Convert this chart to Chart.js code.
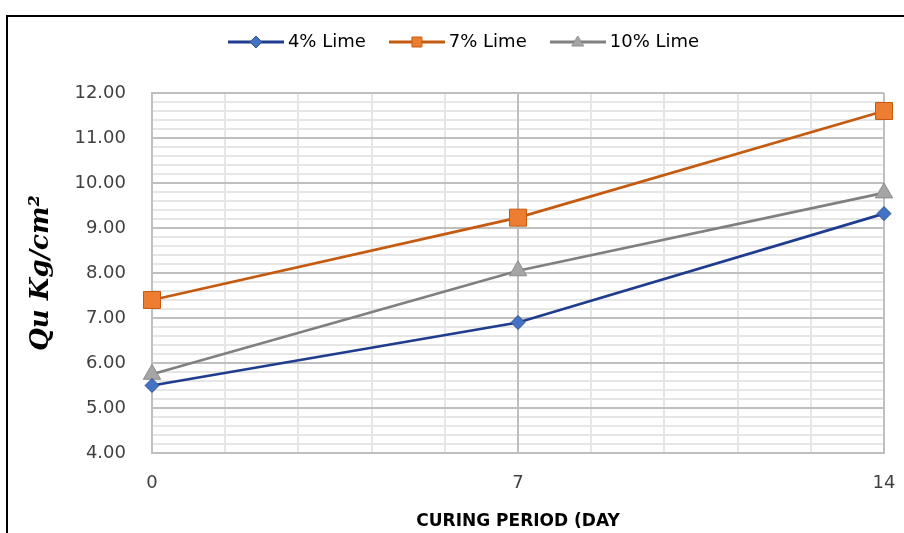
<!DOCTYPE html>
<html>
<head>
<meta charset="utf-8">
<script src="https://cdn.jsdelivr.net/npm/chart.js@4/dist/chart.umd.min.js"></script>
<style>
  html, body { margin: 0; padding: 0; background: #fff; }
  #wrap { position: relative; width: 904px; height: 533px; overflow: hidden; }
  #frame { position: absolute; left: 6px; top: 15px; width: 1000px; height: 1000px;
           border-top: 2px solid #000; border-left: 2px solid #000; pointer-events: none; }
  #c { position: absolute; left: 0; top: 0; }
</style>
</head>
<body>
<div id="wrap">
  <div id="frame"></div>
  <canvas id="c" width="904" height="533"></canvas>
</div>
<script>
// Curing period (days) and unconfined compressive strength per lime content
const days = [0, 7, 14];
const lime4 = [5.50, 6.90, 9.32];
const lime7 = [7.40, 9.23, 11.60];
const lime10 = [5.75, 8.05, 9.78];
const seriesNames = ['4% Lime', '7% Lime', '10% Lime'];
const xTickLabels = ['0', '7', '14'];

const SANS = "'DejaVu Sans', 'Open Sans', sans-serif";
const MAJOR_GRID = '#BFBFBF';
const MINOR_GRID = '#E6E6E6';
const styles = [
  { line: '#1F3C8F', fill: '#4472C4', border: '#2F528F', shape: 'rectRot', r: 7 },
  { line: '#C55A11', fill: '#ED7D31', border: '#C55A11', shape: 'rect', r: 12 },
  { line: '#808080', fill: '#A5A5A5', border: '#8C8C8C', shape: 'triangle', r: 10 }
];

// Small line-plus-marker swatch used as the legend symbol
function swatch(s) {
  const cv = document.createElement('canvas');
  cv.width = 56; cv.height = 18;
  const g = cv.getContext('2d');
  g.strokeStyle = s.line; g.lineWidth = 3;
  g.beginPath(); g.moveTo(0, 9); g.lineTo(56, 9); g.stroke();
  g.fillStyle = s.fill; g.strokeStyle = s.border; g.lineWidth = 1;
  g.beginPath();
  if (s.shape === 'rectRot') {
    g.moveTo(28, 3); g.lineTo(34, 9); g.lineTo(28, 15); g.lineTo(22, 9);
  } else if (s.shape === 'rect') {
    g.rect(23, 4, 10, 10);
  } else {
    g.moveTo(28, 3); g.lineTo(34, 13); g.lineTo(22, 13);
  }
  g.closePath(); g.fill(); g.stroke();
  return cv;
}

function makeSet(name, values, s) {
  return {
    label: name,
    data: days.map((d, i) => ({ x: d, y: values[i] })),
    borderColor: s.line,
    backgroundColor: s.fill,
    borderWidth: 2.75,
    pointStyle: s.shape,
    pointRadius: s.r,
    pointHoverRadius: s.r,
    pointBackgroundColor: s.fill,
    pointBorderColor: s.border,
    pointBorderWidth: 1,
    tension: 0,
    clip: false,
    legendSwatch: swatch(s)
  };
}

const isWhole = v => Math.abs(v - Math.round(v)) < 1e-6;

new Chart(document.getElementById('c'), {
  type: 'line',
  data: {
    datasets: [
      makeSet(seriesNames[0], lime4, styles[0]),
      makeSet(seriesNames[1], lime7, styles[1]),
      makeSet(seriesNames[2], lime10, styles[2])
    ]
  },
  options: {
    responsive: false,
    animation: false,
    devicePixelRatio: 1,
    layout: { padding: { top: 5, left: 28, right: 0, bottom: 0 } },
    plugins: {
      tooltip: { enabled: false },
      // empty title box used only as a gap between the legend and the plot
      title: {
        display: true,
        text: '',
        weight: 500,
        font: { size: 32, lineHeight: 1 },
        padding: 0
      },
      legend: {
        position: 'top',
        align: 'center',
        labels: {
          usePointStyle: true,
          pointStyleWidth: 46,
          padding: 28,
          color: '#000',
          font: { family: SANS, size: 18 },
          generateLabels: chart => chart.data.datasets.map((ds, i) => ({
            text: ds.label,
            pointStyle: ds.legendSwatch,
            fillStyle: ds.backgroundColor,
            strokeStyle: ds.borderColor,
            lineWidth: 0,
            hidden: false,
            datasetIndex: i,
            fontColor: '#000'
          }))
        }
      }
    },
    scales: {
      // day axis: labels and the light minor grid every 1.4 days
      x: {
        type: 'linear',
        min: 0,
        max: 14,
        afterFit: s => { s.height = 80; s.paddingRight = 20; s.paddingLeft = 0; },
        ticks: {
          stepSize: 1.4,
          autoSkip: false,
          maxRotation: 0,
          padding: 20,
          color: '#404040',
          font: { family: SANS, size: 18 },
          callback: v => {
            const i = days.findIndex(d => Math.abs(d - v) < 1e-6);
            return i >= 0 ? xTickLabels[i] : '';
          }
        },
        grid: { drawTicks: false, lineWidth: 2, color: MINOR_GRID },
        border: { display: true, color: MAJOR_GRID, width: 2 },
        title: {
          display: true,
          text: 'CURING PERIOD (DAY',
          color: '#000',
          font: { family: SANS, size: 17, weight: 'bold' },
          padding: { top: 0, bottom: 1 }
        }
      },
      y: {
        type: 'linear',
        min: 4,
        max: 12,
        afterFit: s => { s.width = 124; },
        ticks: {
          stepSize: 0.2,
          autoSkip: false,
          padding: 26,
          color: '#404040',
          font: { family: SANS, size: 18 },
          callback: v => isWhole(v) ? Number(v).toFixed(2) : ''
        },
        grid: {
          drawTicks: false,
          lineWidth: 2,
          color: c => (c.tick && isWhole(c.tick.value)) ? MAJOR_GRID : MINOR_GRID
        },
        border: { display: true, color: MAJOR_GRID, width: 2 },
        title: {
          display: true,
          text: 'Qu Kg/cm²',
          color: '#000',
          font: { family: "'DejaVu Serif', 'Liberation Serif', serif", size: 26, weight: 'bold', style: 'italic', lineHeight: 1.05 },
          padding: { top: 0, bottom: 0 }
        }
      },
      // darker day gridlines at 0, 7 and 14, drawn over the minor grid
      xMajor: {
        type: 'linear',
        position: 'bottom',
        min: 0,
        max: 14,
        afterFit: s => { s.height = 0; s.paddingRight = 0; s.paddingLeft = 0; },
        ticks: { display: false, stepSize: 7, autoSkip: false },
        grid: { drawTicks: false, lineWidth: 2, color: MAJOR_GRID },
        border: { display: false }
      }
    }
  }
});
</script>
</body>
</html>
